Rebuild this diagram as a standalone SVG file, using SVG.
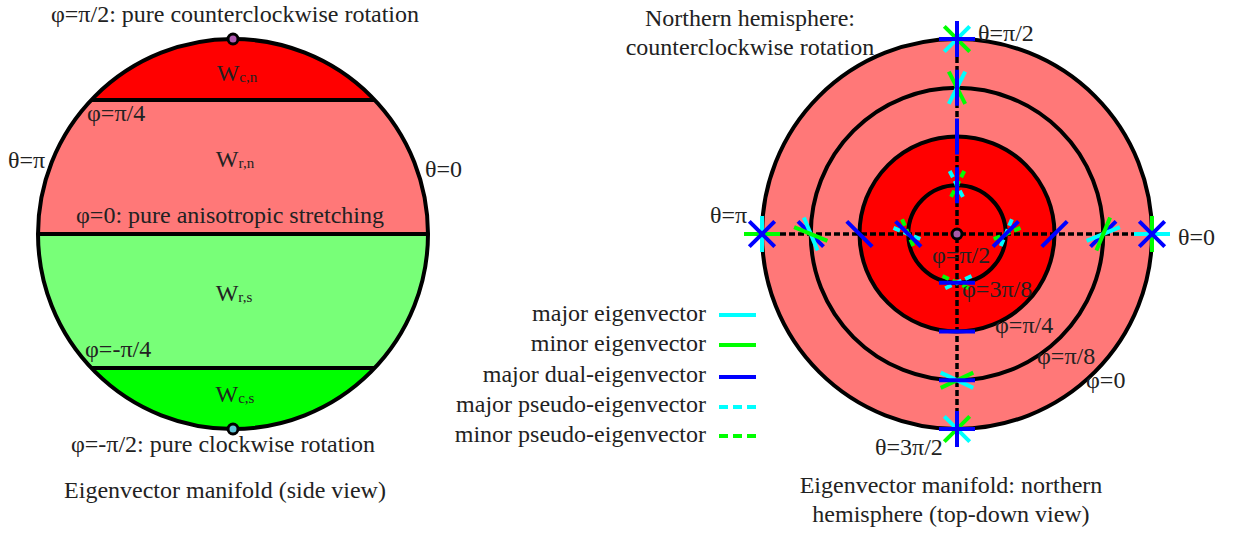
<svg xmlns="http://www.w3.org/2000/svg" width="1241" height="533" viewBox="0 0 1241 533">
<style>
text{font-family:"Liberation Serif","Times New Roman",serif;font-size:24px;fill:#222}
.sub{font-size:15px}
.mid{text-anchor:middle}
.end{text-anchor:end}
.edge{fill:none;stroke:#000;stroke-width:4}
.axis{fill:none;stroke:#000;stroke-width:3.5;stroke-dasharray:6 3}
.cy{stroke:#00ffff;stroke-width:4;fill:none}
.gr{stroke:#00ff00;stroke-width:4;fill:none}
.bl{stroke:#0000ff;stroke-width:4;fill:none}
.dash{stroke-dasharray:7 4}
.ldash{stroke-dasharray:9 5}
.dot{stroke:#000;stroke-width:3}
</style>
<rect width="1241" height="533" fill="#fff"/>

<!-- Left: side view -->
<g id="side-view">
  <g id="region-wcn">
    <path d="M91.3 100 A195 195 0 0 1 374.7 100 Z" fill="#ff0000"/>
    <text x="237" y="81" class="mid">W<tspan class="sub" dy="1">c,n</tspan></text>
  </g>
  <g id="region-wrn">
    <path d="M91.3 100 L374.7 100 A195 195 0 0 1 428 234 L38 234 A195 195 0 0 1 91.3 100 Z" fill="#ff7878"/>
    <text x="235" y="167" class="mid">W<tspan class="sub" dy="1">r,n</tspan></text>
  </g>
  <g id="region-wrs">
    <path d="M38 234 L428 234 A195 195 0 0 1 374.7 368 L91.3 368 A195 195 0 0 1 38 234 Z" fill="#78ff78"/>
    <text x="234" y="301" class="mid">W<tspan class="sub" dy="1">r,s</tspan></text>
  </g>
  <g id="region-wcs">
    <path d="M91.3 368 L374.7 368 A195 195 0 0 1 91.3 368 Z" fill="#00ff00"/>
    <text x="235" y="402" class="mid">W<tspan class="sub" dy="1">c,s</tspan></text>
  </g>
  <line x1="91.3" y1="100" x2="374.7" y2="100" class="edge"/>
  <line x1="38" y1="234" x2="428" y2="234" class="edge"/>
  <line x1="91.3" y1="368" x2="374.7" y2="368" class="edge"/>
  <circle cx="233" cy="234" r="195" class="edge"/>
  <circle cx="233" cy="39" r="5" fill="#b05ab0" class="dot"/>
  <circle cx="233" cy="429" r="5" fill="#60c4d8" class="dot"/>
  <text x="235" y="22" class="mid">φ=π/2: pure counterclockwise rotation</text>
  <text x="87" y="121">φ=π/4</text>
  <text x="8" y="168">θ=π</text>
  <text x="425" y="177">θ=0</text>
  <text x="230" y="223" class="mid">φ=0: pure anisotropic stretching</text>
  <text x="85" y="357">φ=-π/4</text>
  <text x="223" y="452" class="mid">φ=-π/2: pure clockwise rotation</text>
  <text x="225" y="498" class="mid">Eigenvector manifold (side view)</text>
</g>

<!-- Right: top-down view -->
<g id="top-view">
  <g id="rings">
    <circle cx="957" cy="234" r="195" fill="#ff7878"/>
    <circle cx="957" cy="234" r="97.5" fill="#ff0000"/>
    <circle cx="957" cy="234" r="195" class="edge"/>
    <circle cx="957" cy="234" r="146.25" class="edge"/>
    <circle cx="957" cy="234" r="97.5" class="edge"/>
    <circle cx="957" cy="234" r="48.75" class="edge"/>
  </g>
  <g id="connectors">
    <line x1="762" y1="234" x2="1152" y2="234" class="axis"/>
    <line x1="957" y1="39" x2="957" y2="429" class="axis"/>
  </g>
  <circle id="center" cx="957" cy="234" r="5" fill="#a85aa8" class="dot"/>

  <g id="m-outer-right">
    <line x1="1134" y1="234" x2="1170" y2="234" class="cy"/>
    <line x1="1152" y1="216" x2="1152" y2="252" class="gr"/>
    <line x1="1139.3" y1="221.3" x2="1164.7" y2="246.7" class="bl"/>
    <line x1="1139.3" y1="246.7" x2="1164.7" y2="221.3" class="bl"/>
  </g>
  <g id="m-outer-left">
    <line x1="762" y1="216" x2="762" y2="252" class="cy"/>
    <line x1="744" y1="234" x2="780" y2="234" class="gr"/>
    <line x1="749.3" y1="221.3" x2="774.7" y2="246.7" class="bl"/>
    <line x1="749.3" y1="246.7" x2="774.7" y2="221.3" class="bl"/>
  </g>
  <g id="m-outer-top">
    <line x1="944.3" y1="26.3" x2="969.7" y2="51.7" class="gr"/>
    <line x1="969.7" y1="26.3" x2="944.3" y2="51.7" class="cy"/>
    <line x1="957" y1="21" x2="957" y2="57" class="bl"/>
    <line x1="939" y1="39" x2="975" y2="39" class="bl"/>
  </g>
  <g id="m-outer-bottom">
    <line x1="944.3" y1="416.3" x2="969.7" y2="441.7" class="cy"/>
    <line x1="969.7" y1="416.3" x2="944.3" y2="441.7" class="gr"/>
    <line x1="957" y1="411" x2="957" y2="447" class="bl"/>
    <line x1="939" y1="429" x2="975" y2="429" class="bl"/>
  </g>

  <g id="m-r2-right">
    <line x1="1090.5" y1="246.7" x2="1116" y2="221.3" class="bl"/>
    <line x1="1086.6" y1="240.9" x2="1119.9" y2="227.1" class="cy"/>
    <line x1="1096.4" y1="250.6" x2="1110.1" y2="217.4" class="gr"/>
  </g>
  <g id="m-r2-left">
    <line x1="798" y1="221.3" x2="823.5" y2="246.7" class="bl"/>
    <line x1="803.9" y1="217.4" x2="817.6" y2="250.6" class="cy"/>
    <line x1="794.1" y1="227.1" x2="827.4" y2="240.9" class="gr"/>
  </g>
  <g id="m-r2-top">
    <line x1="948.8" y1="71.7" x2="965.2" y2="103.8" class="gr"/>
    <line x1="965.2" y1="71.7" x2="948.8" y2="103.8" class="cy"/>
    <line x1="957" y1="69.75" x2="957" y2="105.75" class="bl"/>
  </g>
  <g id="m-r2-bottom">
    <line x1="940.7" y1="372.6" x2="973.3" y2="387.9" class="cy"/>
    <line x1="973.3" y1="372.6" x2="940.7" y2="387.9" class="gr"/>
    <line x1="939" y1="380.25" x2="975" y2="380.25" class="bl"/>
  </g>

  <g id="m-r3">
    <line x1="1041.8" y1="246.7" x2="1067.2" y2="221.3" class="bl"/>
    <line x1="846.8" y1="221.3" x2="872.2" y2="246.7" class="bl"/>
    <line x1="957" y1="118.5" x2="957" y2="154.5" class="bl"/>
    <line x1="939" y1="331.5" x2="975" y2="331.5" class="bl"/>
  </g>

  <g id="m-r4-right">
    <line x1="1011.9" y1="219.2" x2="999.6" y2="248.8" class="cy dash"/>
    <line x1="1020.5" y1="227.9" x2="991" y2="240.1" class="gr dash"/>
    <line x1="993" y1="246.7" x2="1018.5" y2="221.3" class="bl"/>
  </g>
  <g id="m-r4-left">
    <line x1="893.5" y1="227.9" x2="923" y2="240.1" class="cy dash"/>
    <line x1="902.1" y1="219.2" x2="914.4" y2="248.8" class="gr dash"/>
    <line x1="895.5" y1="221.3" x2="921" y2="246.7" class="bl"/>
  </g>
  <g id="m-r4-top">
    <line x1="949.7" y1="171" x2="964.3" y2="199.5" class="cy dash"/>
    <line x1="964.3" y1="171" x2="949.7" y2="199.5" class="gr dash"/>
    <line x1="957" y1="167.25" x2="957" y2="203.25" class="bl"/>
  </g>
  <g id="m-r4-bottom">
    <line x1="942.5" y1="276" x2="971.5" y2="289.5" class="gr dash"/>
    <line x1="971.5" y1="276" x2="942.5" y2="289.5" class="cy dash"/>
    <line x1="939" y1="282.75" x2="975" y2="282.75" class="bl"/>
  </g>

  <g id="labels-right">
    <text x="750" y="26" class="mid">Northern hemisphere:</text>
    <text x="750" y="55" class="mid">counterclockwise rotation</text>
    <text x="978" y="41">θ=π/2</text>
    <text x="710" y="223">θ=π</text>
    <text x="1178" y="245">θ=0</text>
    <text x="932" y="263">φ=π/2</text>
    <text x="962" y="297">φ=3π/8</text>
    <text x="995" y="333">φ=π/4</text>
    <text x="1037" y="364">φ=π/8</text>
    <text x="1086" y="388">φ=0</text>
    <text x="875" y="455">θ=3π/2</text>
    <text x="951" y="493" class="mid">Eigenvector manifold: northern</text>
    <text x="951" y="522" class="mid">hemisphere (top-down view)</text>
  </g>
</g>

<!-- Legend -->
<g id="legend">
  <g id="lg-major">
    <text x="706" y="321" class="end">major eigenvector</text>
    <line x1="719" y1="315" x2="756" y2="315" class="cy"/>
  </g>
  <g id="lg-minor">
    <text x="706" y="351" class="end">minor eigenvector</text>
    <line x1="719" y1="345" x2="756" y2="345" class="gr"/>
  </g>
  <g id="lg-dual">
    <text x="706" y="382" class="end">major dual-eigenvector</text>
    <line x1="719" y1="377" x2="756" y2="377" class="bl"/>
  </g>
  <g id="lg-pmajor">
    <text x="706" y="412" class="end">major pseudo-eigenvector</text>
    <line x1="719" y1="407" x2="756" y2="407" class="cy ldash"/>
  </g>
  <g id="lg-pminor">
    <text x="706" y="442" class="end">minor pseudo-eigenvector</text>
    <line x1="719" y1="436" x2="756" y2="436" class="gr ldash"/>
  </g>
</g>
</svg>
